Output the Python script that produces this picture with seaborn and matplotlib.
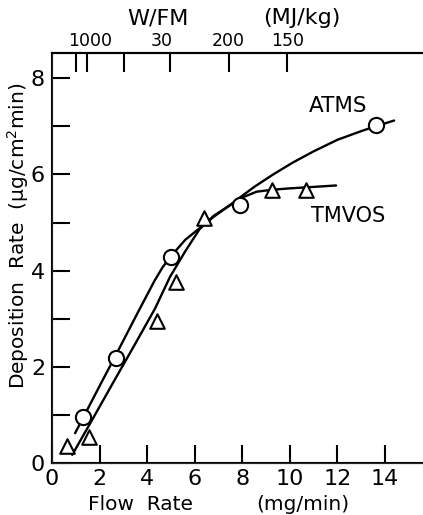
import matplotlib
matplotlib.use("Agg")
import matplotlib.pyplot as plt
import seaborn as sns
import pandas as pd

# ---- data ----
atms_x = [1.32, 2.69, 4.99, 7.90, 13.61]
atms_y = [0.95, 2.18, 4.29, 5.36, 7.03]
tmvos_x = [0.64, 1.57, 4.42, 5.21, 6.39, 9.23, 10.67]
tmvos_y = [0.35, 0.55, 2.96, 3.77, 5.09, 5.68, 5.68]

atms_curve_x = [0.97, 2.0, 2.69, 3.63, 4.3, 4.65, 5.0, 5.6, 6.2, 6.8, 7.48, 7.9, 8.5, 9.3,
                10.1, 11.0, 12.0, 13.0, 13.6, 14.38]
atms_curve_y = [0.62, 1.6, 2.25, 3.15, 3.78, 4.07, 4.3, 4.64, 4.88, 5.12, 5.36, 5.52, 5.74, 6.0,
                6.24, 6.48, 6.72, 6.9, 7.0, 7.12]
tmvos_curve_x = [0.85, 1.6, 2.5, 3.5, 4.33, 4.96, 5.6, 6.2, 6.8, 7.48, 7.9, 8.6, 9.23, 10.0,
                 11.0, 11.94]
tmvos_curve_y = [0.17, 0.82, 1.61, 2.48, 3.21, 3.87, 4.4, 4.86, 5.14, 5.36, 5.5, 5.64, 5.68, 5.71,
                 5.74, 5.77]

x_ticks = [0, 2, 4, 6, 8, 10, 12, 14]
y_major = [0, 2, 4, 6, 8]
y_minor = [1, 3, 5, 7]
top_tick_pos = [1.01, 1.47, 3.03, 4.96, 7.44, 9.87]
top_label_pos = [1.60, 4.62, 7.39, 9.92]
top_labels = ["1000", "30", "200", "150"]

sns.set_style("ticks")
plt.rcParams["font.family"] = ["DejaVu Sans"]
plt.rcParams["text.color"] = "black"
plt.rcParams["xtick.color"] = "black"
plt.rcParams["ytick.color"] = "black"
plt.rcParams["xtick.labelcolor"] = "black"
plt.rcParams["ytick.labelcolor"] = "black"

fig = plt.figure(figsize=(4.23, 5.15), dpi=100)
ax = fig.add_axes([52/423, 1-463/515, 371/423, 410/515])

df_ac = pd.DataFrame({"x": atms_curve_x, "y": atms_curve_y})
df_tc = pd.DataFrame({"x": tmvos_curve_x, "y": tmvos_curve_y})
sns.lineplot(data=df_ac, x="x", y="y", ax=ax, color="black", lw=1.7, sort=False, estimator=None)
sns.lineplot(data=df_tc, x="x", y="y", ax=ax, color="black", lw=1.7, sort=False, estimator=None)

df_a = pd.DataFrame({"x": atms_x, "y": atms_y})
df_t = pd.DataFrame({"x": tmvos_x, "y": tmvos_y})
sns.scatterplot(data=df_a, x="x", y="y", ax=ax, marker="o", s=120, facecolor="white",
                edgecolor="black", linewidth=1.5, zorder=5)
sns.scatterplot(data=df_t, x="x", y="y", ax=ax, marker="^", s=110, facecolor="white",
                edgecolor="black", linewidth=1.5, zorder=5)

ax.set_xlim(0, 371/23.79)
ax.set_ylim(0, 410/48.1)
ax.set_xlabel("")
ax.set_ylabel("")

for s in ["left", "bottom", "top"]:
    ax.spines[s].set_linewidth(1.5)
    ax.spines[s].set_color("black")
ax.spines["right"].set_visible(False)

ax.set_xticks(x_ticks)
ax.set_xticklabels([str(v) for v in x_ticks])
ax.set_yticks(y_major)
ax.set_yticklabels([str(v) for v in y_major])
ax.set_yticks(y_minor, minor=True)
ax.tick_params(axis="x", which="major", direction="in", length=13, width=1.5,
               labelsize=16, pad=4, color="black")
ax.tick_params(axis="y", which="both", direction="in", length=13, width=1.5,
               labelsize=16, pad=5, color="black")

# top axis
ax2 = ax.twiny()
ax2.set_xlim(ax.get_xlim())
ax2.spines["right"].set_visible(False)
ax2.spines["top"].set_linewidth(1.5)
ax2.spines["top"].set_color("black")
ax2.set_xticks(top_label_pos)
ax2.set_xticklabels(top_labels)
ax2.set_xticks(top_tick_pos, minor=True)
ax2.tick_params(axis="x", which="major", length=0, labelsize=12.5, pad=2)
ax2.tick_params(axis="x", which="minor", direction="in", length=14, width=1.5, color="black")

fig.text(158/423, 1-18/515, "W/FM", fontsize=16, ha="center", va="center")
fig.text(302/423, 1-18/515, "(MJ/kg)", fontsize=16, ha="center", va="center")

fig.text(140/423, 1-505/515, "Flow  Rate", fontsize=14.5, ha="center", va="center")
fig.text(303/423, 1-505/515, "(mg/min)", fontsize=14.5, ha="center", va="center")
fig.text(18/423, 1-236/515, "Deposition  Rate  (\u03bcg/cm$^2$min)", fontsize=14.5,
         ha="center", va="center", rotation=90)

ax.text(12.02, 7.42, "ATMS", fontsize=15.5, ha="center", va="center")
ax.text(12.44, 5.13, "TMVOS", fontsize=15, ha="center", va="center")

fig.savefig("out.png", dpi=100)
